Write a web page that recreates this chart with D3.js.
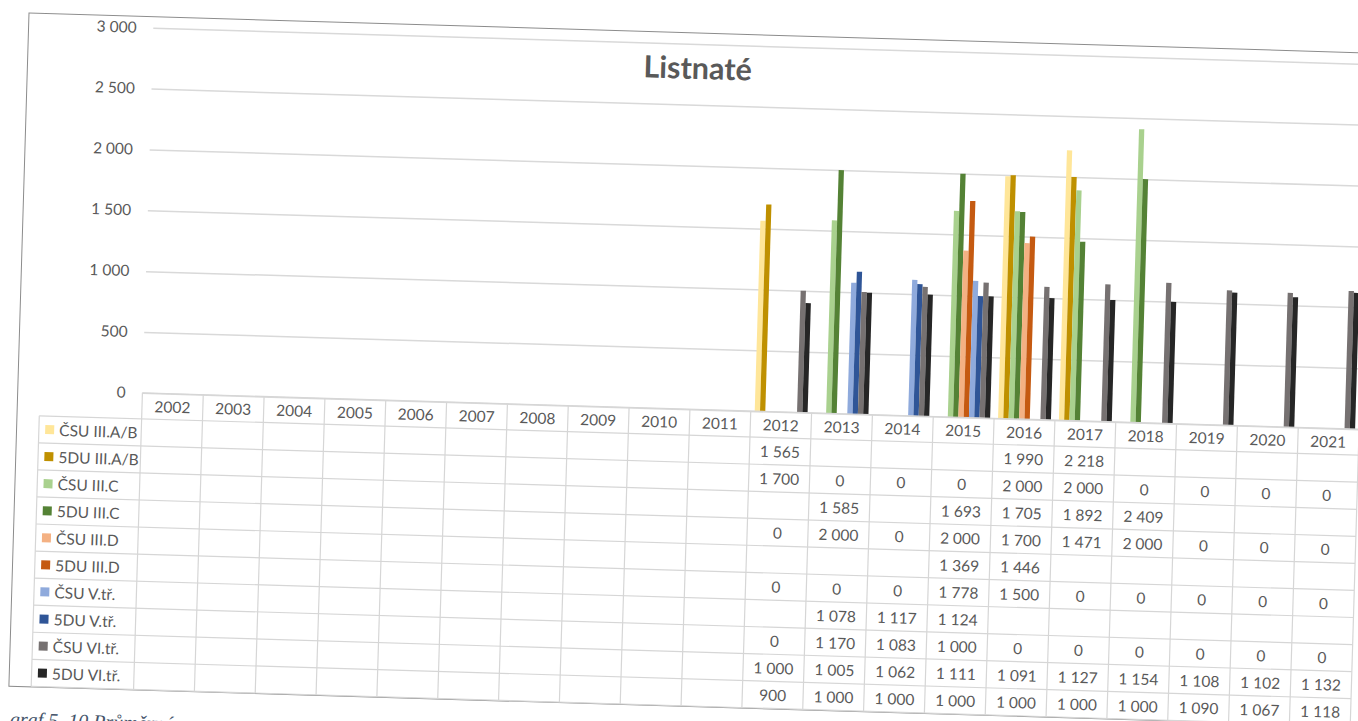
<!DOCTYPE html>
<html><head><meta charset="utf-8">
<script src="https://cdn.jsdelivr.net/npm/d3@7"></script>
<style>body{margin:0;background:#fff;overflow:hidden} svg{display:block}</style>
</head><body>
<svg id="c" width="1358" height="721"></svg>
<script>
// ---------- data ----------
const title = "Listnaté";
const years = ["2002","2003","2004","2005","2006","2007","2008","2009","2010","2011",
               "2012","2013","2014","2015","2016","2017","2018","2019","2020","2021"];
const seriesNames = ["ČSU III.A/B","5DU III.A/B","ČSU III.C","5DU III.C","ČSU III.D",
                     "5DU III.D","ČSU V.tř.","5DU V.tř.","ČSU VI.tř.","5DU VI.tř."];
const seriesColors = ["#FFE699","#BF9000","#A9D18E","#548235","#F4B183",
                      "#C55A11","#8FAADC","#2F5597","#767171","#262626"];
const csuIIIAB = [null,null,null,null,null,null,null,null,null,null, 1565,null,null,null,1990,2218,null,null,null,null];
const sduIIIAB = [null,null,null,null,null,null,null,null,null,null, 1700,0,0,0,2000,2000,0,0,0,0];
const csuIIIC  = [null,null,null,null,null,null,null,null,null,null, null,1585,null,1693,1705,1892,2409,null,null,null];
const sduIIIC  = [null,null,null,null,null,null,null,null,null,null, 0,2000,0,2000,1700,1471,2000,0,0,0];
const csuIIID  = [null,null,null,null,null,null,null,null,null,null, null,null,null,1369,1446,null,null,null,null,null];
const sduIIID  = [null,null,null,null,null,null,null,null,null,null, 0,0,0,1778,1500,0,0,0,0,0];
const csuV     = [null,null,null,null,null,null,null,null,null,null, null,1078,1117,1124,null,null,null,null,null,null];
const sduV     = [null,null,null,null,null,null,null,null,null,null, 0,1170,1083,1000,0,0,0,0,0,0];
const csuVI    = [null,null,null,null,null,null,null,null,null,null, 1000,1005,1062,1111,1091,1127,1154,1108,1102,1132];
const sduVI    = [null,null,null,null,null,null,null,null,null,null, 900,1000,1000,1000,1000,1000,1000,1090,1067,1118];
const seriesValues = [csuIIIAB, sduIIIAB, csuIIIC, sduIIIC, csuIIID, sduIIID, csuV, sduV, csuVI, sduVI];
const yTicks = [0, 500, 1000, 1500, 2000, 2500, 3000];
const caption = "graf 5. 10 Průměrné";

// ---------- layout ----------
const FONT = "Lato, 'Open Sans', sans-serif";
const TXT = "#595959";
const GRID = "#d9d9d9";
const plotLeft = 124.7, plotRight = 1341.9;
const yBase = 376.3, yTopPx = 11;
const headerH = 26, rowH = 27.07, labelLeft = 22.3;
const tableTop = yBase + headerH;
const tableBottom = tableTop + rowH * seriesNames.length;

const fmtLocale = d3.formatLocale({decimal: ",", thousands: " ", grouping: [3], currency: ["", ""]});
const fmt = fmtLocale.format(",d");

const svg = d3.select("#c");
const g = svg.append("g").attr("transform", "translate(29,13) rotate(1.71)");

// chart frame
g.append("rect").attr("x", 0).attr("y", 0).attr("width", 1420).attr("height", tableBottom + 0.5)
  .attr("fill", "#fff").attr("stroke", "#8c8c8c").attr("stroke-width", 1);

// scales
const x = d3.scaleBand().domain(years).range([plotLeft, plotRight]);
const xs = d3.scaleBand().domain(seriesNames).range([0, x.bandwidth()]).paddingOuter(0.75);
const y = d3.scaleLinear().domain([0, 3000]).range([yBase, yTopPx]);

// y axis with gridlines
const yAxis = g.append("g").attr("transform", `translate(${plotLeft},0)`)
  .call(d3.axisLeft(y).tickValues(yTicks).tickSize(-(plotRight - plotLeft)).tickPadding(16.7).tickFormat(fmt));
yAxis.select(".domain").remove();
yAxis.selectAll("line").attr("stroke", GRID).attr("stroke-width", 1.5);
yAxis.selectAll("text").attr("fill", TXT).style("font-family", FONT).style("font-size", "15.5px");

// title
g.append("text").attr("x", 670).attr("y", 46).attr("text-anchor", "middle")
  .attr("fill", TXT).style("font-family", FONT).style("font-size", "30.5px").style("font-weight", "bold")
  .text(title);

// bars
const barData = [];
seriesNames.forEach((s, i) => {
  seriesValues[i].forEach((v, j) => {
    if (v != null && v > 0) barData.push({s, i, year: years[j], v});
  });
});
g.append("g").selectAll("rect").data(barData).join("rect")
  .attr("x", d => x(d.year) + xs(d.s))
  .attr("width", xs.bandwidth())
  .attr("y", d => y(d.v))
  .attr("height", d => y(0) - y(d.v))
  .attr("fill", d => seriesColors[d.i]);

// data table
const tbl = g.append("g").attr("stroke", "#d6d6d6").attr("stroke-width", 1.2);
tbl.append("line").attr("x1", plotLeft).attr("x2", plotRight).attr("y1", yBase).attr("y2", yBase);
for (let r = 0; r <= seriesNames.length; r++) {
  const yy = tableTop + r * rowH;
  tbl.append("line").attr("x1", labelLeft).attr("x2", plotRight).attr("y1", yy).attr("y2", yy);
}
tbl.append("line").attr("x1", labelLeft).attr("x2", labelLeft).attr("y1", tableTop).attr("y2", tableBottom);
years.forEach(yr => {
  const xx = x(yr);
  tbl.append("line").attr("x1", xx).attr("x2", xx).attr("y1", yBase).attr("y2", tableBottom);
});
tbl.append("line").attr("x1", plotRight).attr("x2", plotRight).attr("y1", yBase).attr("y2", tableBottom);

// header years
g.append("g").selectAll("text").data(years).join("text")
  .attr("x", d => x(d) + x.bandwidth() / 2).attr("y", yBase + headerH / 2)
  .attr("text-anchor", "middle").attr("dominant-baseline", "central")
  .attr("fill", TXT).style("font-family", FONT).style("font-size", "15.5px")
  .text(d => d);

// row labels with keys
const rows = g.append("g").selectAll("g").data(seriesNames).join("g")
  .attr("transform", (d, i) => `translate(0,${tableTop + i * rowH + rowH / 2})`);
rows.append("rect").attr("x", 28.6).attr("y", -4.5).attr("width", 9).attr("height", 9)
  .attr("fill", (d, i) => seriesColors[i]);
rows.append("text").attr("x", 42.7).attr("y", 0).attr("dominant-baseline", "central")
  .attr("fill", TXT).style("font-family", FONT).style("font-size", "15.5px")
  .text(d => d);

// cell values
const cells = [];
seriesNames.forEach((s, i) => seriesValues[i].forEach((v, j) => {
  if (v != null) cells.push({i, year: years[j], v});
}));
g.append("g").selectAll("text").data(cells).join("text")
  .attr("x", d => x(d.year) + x.bandwidth() / 2)
  .attr("y", d => tableTop + d.i * rowH + rowH / 2)
  .attr("text-anchor", "middle").attr("dominant-baseline", "central")
  .attr("fill", TXT).style("font-family", FONT).style("font-size", "15.5px")
  .text(d => fmt(d.v));

// page caption (cut off at bottom)
g.append("text").attr("x", 2).attr("y", 713)
  .attr("fill", "#44546A").style("font-family", "'Liberation Serif', serif").style("font-style", "italic")
  .style("font-size", "20px").text(caption);
</script>
</body></html>
